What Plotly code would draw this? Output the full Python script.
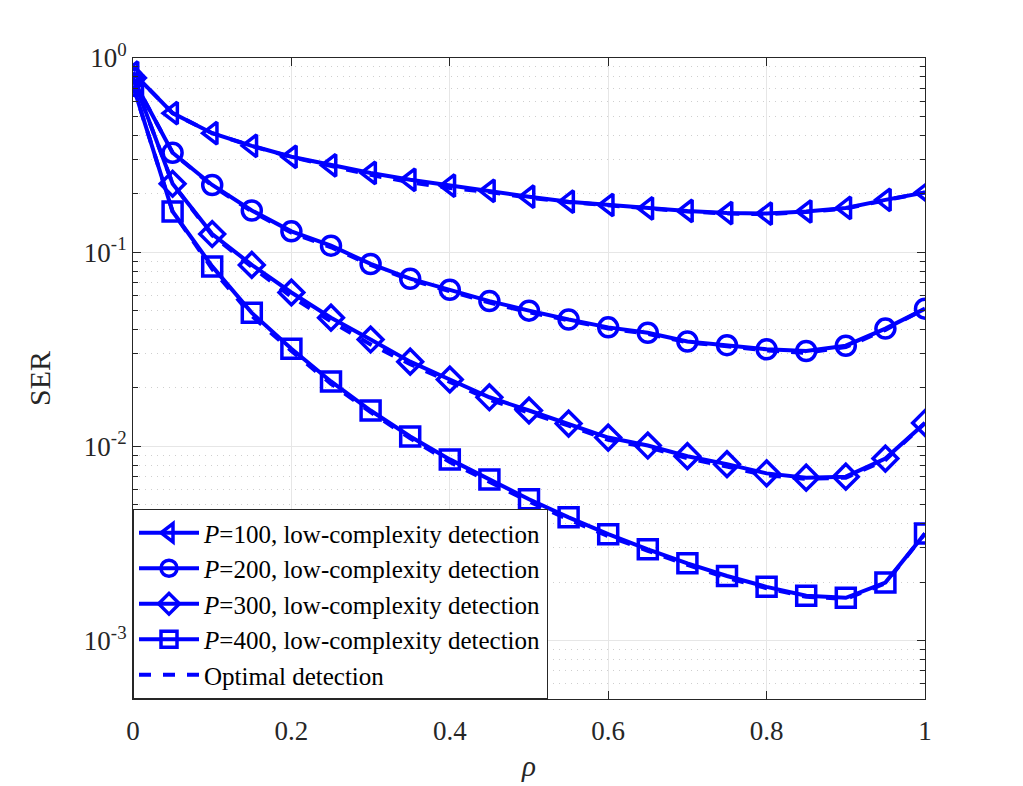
import plotly.graph_objects as go

rho = [0, 0.05, 0.1, 0.15, 0.2, 0.25, 0.3, 0.35, 0.4, 0.45, 0.5,
       0.55, 0.6, 0.65, 0.7, 0.75, 0.8, 0.85, 0.9, 0.95, 1.0]

ser_p100 = [0.84, 0.52, 0.41, 0.353, 0.31, 0.28, 0.256, 0.236, 0.22, 0.207, 0.193,
            0.182, 0.175, 0.168, 0.163, 0.159, 0.158, 0.162, 0.169, 0.186, 0.203]
ser_p200 = [0.78, 0.325, 0.222, 0.164, 0.128, 0.108, 0.087, 0.073, 0.064, 0.056, 0.050,
            0.045, 0.041, 0.0385, 0.0347, 0.0332, 0.0316, 0.031, 0.033, 0.0404, 0.0512]
ser_p300 = [0.79, 0.225, 0.124, 0.086, 0.062, 0.046, 0.0355, 0.0273, 0.0221, 0.0179, 0.0153,
            0.0131, 0.0111, 0.0101, 0.0089, 0.0081, 0.00726, 0.0069, 0.00698, 0.00865, 0.0132]
ser_p400 = [0.72, 0.162, 0.0845, 0.0487, 0.0318, 0.0216, 0.0153, 0.01125, 0.00857, 0.00676, 0.00534,
            0.00431, 0.00353, 0.00295, 0.0025, 0.00215, 0.00189, 0.0017, 0.00166, 0.00199, 0.00356]

opt_p100 = [0.84, 0.52, 0.41, 0.352, 0.309, 0.277, 0.25, 0.229, 0.214, 0.204, 0.191,
            0.181, 0.174, 0.167, 0.162, 0.158, 0.157, 0.161, 0.168, 0.185, 0.203]
opt_p200 = [0.78, 0.325, 0.22, 0.162, 0.126, 0.106, 0.086, 0.072, 0.063, 0.055, 0.049,
            0.0445, 0.0405, 0.038, 0.0343, 0.0328, 0.0312, 0.0303, 0.0325, 0.0398, 0.0512]
opt_p300 = [0.79, 0.225, 0.122, 0.084, 0.059, 0.044, 0.0335, 0.0265, 0.0215, 0.0174, 0.0149,
            0.0128, 0.0108, 0.0099, 0.0087, 0.0079, 0.0071, 0.0068, 0.0069, 0.0085, 0.0132]
opt_p400 = [0.72, 0.162, 0.082, 0.047, 0.031, 0.021, 0.015, 0.011, 0.0083, 0.0066, 0.0052,
            0.0042, 0.00345, 0.0029, 0.00245, 0.0021, 0.00186, 0.00168, 0.00164, 0.00197, 0.00356]

labels = ["<i>P</i>=100, low-complexity detection",
          "<i>P</i>=200, low-complexity detection",
          "<i>P</i>=300, low-complexity detection",
          "<i>P</i>=400, low-complexity detection"]
symbols = ["triangle-left-open", "circle-open", "diamond-open", "square-open"]

y_tickvals = [1e-3, 1e-2, 1e-1, 1]
y_ticktext = ["10<sup>-3</sup>", "10<sup>-2</sup>", "10<sup>-1</sup>", "10<sup>0</sup>"]
x_tickvals = [0, 0.2, 0.4, 0.6, 0.8, 1]
x_ticktext = ["0", "0.2", "0.4", "0.6", "0.8", "1"]

BLUE = "#0000ff"
FONT = "Liberation Serif"
AX = "#262626"

fig = go.Figure()

for lab, sym, ys in zip(labels, symbols, [ser_p100, ser_p200, ser_p300, ser_p400]):
    fig.add_trace(go.Scatter(
        x=rho, y=ys, mode="lines+markers", name=lab,
        line=dict(color=BLUE, width=4),
        marker=dict(symbol=sym, size=19, color=BLUE, line=dict(color=BLUE, width=3.5)),
    ))

for i, ys in enumerate([opt_p100, opt_p200, opt_p300, opt_p400]):
    fig.add_trace(go.Scatter(
        x=rho, y=ys, mode="lines", name="Optimal detection",
        showlegend=(i == 0),
        line=dict(color=BLUE, width=4, dash="dash"),
    ))

minor_vals = []
for e in [1e-4, 1e-3, 1e-2, 1e-1]:
    for m in range(2, 10):
        minor_vals.append(m * e)

fig.update_layout(
    width=1023, height=786,
    margin=dict(l=133, r=98, t=58, b=87),
    paper_bgcolor="white", plot_bgcolor="white",
    font=dict(family=FONT, size=27, color=AX),
    showlegend=True,
    legend=dict(
        x=0, y=0, xanchor="left", yanchor="bottom",
        bgcolor="white", bordercolor=AX, borderwidth=1,
        font=dict(family=FONT, size=25, color="black"),
        tracegroupgap=0, itemwidth=60,
    ),
    xaxis=dict(
        range=[0, 1], tickvals=x_tickvals, ticktext=x_ticktext,
        showgrid=True, gridcolor="#e6e6e6", gridwidth=1,
        showline=True, linecolor=AX, linewidth=1, mirror="ticks",
        ticks="inside", ticklen=8, tickcolor=AX, ticklabelstandoff=8,
        zeroline=False, automargin=False,
        title=dict(text="<i>ρ</i>", font=dict(family=FONT, size=29, color=AX), standoff=10),
        tickfont=dict(family=FONT, size=27, color=AX),
    ),
    yaxis=dict(
        type="log", range=[-3.301, 0],
        tickvals=y_tickvals, ticktext=y_ticktext,
        showgrid=True, gridcolor="#e6e6e6", gridwidth=1,
        showline=True, linecolor=AX, linewidth=1, mirror="ticks",
        ticks="inside", ticklen=8, tickcolor=AX,
        zeroline=False, automargin=False,
        minor=dict(tickvals=minor_vals, ticks="inside", ticklen=5, tickcolor=AX,
                   showgrid=True, gridcolor="#cfcfcf", griddash="1px,5px", gridwidth=1),
        title=dict(text="SER", font=dict(family=FONT, size=30, color=AX), standoff=24),
        tickfont=dict(family=FONT, size=27, color=AX),
    ),
)

fig.write_html("out.html")
